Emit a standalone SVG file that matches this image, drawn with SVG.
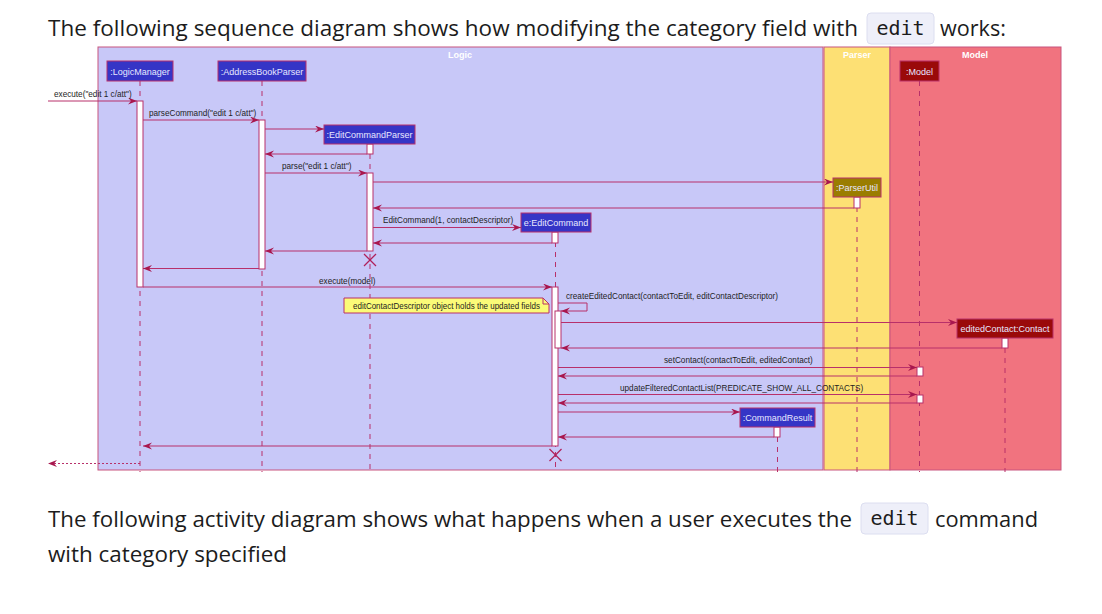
<svg xmlns="http://www.w3.org/2000/svg" width="1102" height="614" viewBox="0 0 1102 614">
<defs>
<style>
.doc{font-family:"Open Sans","Noto Sans","Liberation Sans",sans-serif;font-size:22px;fill:#1c1c1c}
.code{font-family:"DejaVu Sans Mono","Liberation Mono",monospace;font-size:20px;fill:#1c1c1c}
.codebox{fill:#eeeff9;stroke:#dcdef0;stroke-width:1}
.frame{stroke:#c8557e;stroke-width:1}
.ftitle{font-family:"Liberation Sans",Arial,sans-serif;font-size:9px;font-weight:bold;fill:#ffffff;text-anchor:middle}
.pbox{stroke:#b8306a;stroke-width:1}
.ptext{font-family:"Liberation Sans",Arial,sans-serif;font-size:9px;fill:#e8e8ff;text-anchor:middle}
.life{stroke:#b8306a;stroke-width:1;stroke-dasharray:5,5;fill:none}
.act{fill:#ffffff;stroke:#b8306a;stroke-width:1}
.msg{stroke:#b8306a;stroke-width:1;fill:none;marker-end:url(#ah)}
.ret{stroke:#b8306a;stroke-width:1;fill:none;stroke-dasharray:2,2;marker-end:url(#ah)}
.lbl{font-family:"Liberation Sans",Arial,sans-serif;font-size:8.2px;fill:#1e1e1e}
.kill{stroke:#b0205a;stroke-width:1.3}
</style>
<marker id="ah" markerUnits="userSpaceOnUse" markerWidth="10" markerHeight="8" refX="9" refY="3.5" orient="auto">
<path d="M0,0 L9,3.5 L0,7 L3,3.5 Z" fill="#a8174e"/>
</marker>
</defs>
<rect width="1102" height="614" fill="#ffffff"/>

<g id="header">
<text class="doc" x="48" y="36" textLength="810" lengthAdjust="spacingAndGlyphs">The following sequence diagram shows how modifying the category field with</text>
<rect class="codebox" x="867" y="13" width="67" height="31" rx="4"/>
<text class="code" x="900.5" y="35" text-anchor="middle">edit</text>
<text class="doc" x="940" y="36" textLength="66" lengthAdjust="spacingAndGlyphs">works:</text>
</g>

<g id="frames">
<rect class="frame" x="98" y="47" width="725" height="423" fill="#c8c8f8"/>
<rect class="frame" x="824" y="47" width="66" height="423" fill="#fde074"/>
<rect class="frame" x="890" y="47" width="171" height="423" fill="#f1737f"/>
<text class="ftitle" x="460" y="57.5">Logic</text>
<text class="ftitle" x="857" y="57.5">Parser</text>
<text class="ftitle" x="975" y="57.5">Model</text>
</g>

<g id="LogicManager">
<line class="life" x1="140" y1="81" x2="140" y2="472"/>
<rect class="act" x="137" y="101" width="6" height="186"/>
<rect class="pbox" x="107" y="61" width="66" height="20" fill="#3535c6"/>
<text class="ptext" x="140" y="74.5">:LogicManager</text>
</g>

<g id="AddressBookParser">
<line class="life" x1="262" y1="81" x2="262" y2="472"/>
<rect class="act" x="259" y="120" width="6" height="149"/>
<rect class="pbox" x="218" y="61" width="88" height="20" fill="#3535c6"/>
<text class="ptext" x="262" y="74.5">:AddressBookParser</text>
</g>

<g id="EditCommandParser">
<line class="life" x1="370" y1="144" x2="370" y2="472"/>
<rect class="act" x="367" y="144" width="6" height="10"/>
<rect class="act" x="367" y="173" width="6" height="78"/>
<rect class="pbox" x="324" y="125" width="91" height="19" fill="#3535c6"/>
<text class="ptext" x="369.5" y="138">:EditCommandParser</text>
</g>

<g id="ParserUtil">
<line class="life" x1="857" y1="197" x2="857" y2="472"/>
<rect class="act" x="854" y="197" width="6" height="11"/>
<rect class="pbox" x="833" y="178" width="48" height="19" fill="#9a7d00"/>
<text class="ptext" x="857" y="191" fill="#f4ecc8">:ParserUtil</text>
</g>

<g id="EditCommand">
<line class="life" x1="555.5" y1="232" x2="555.5" y2="472"/>
<rect class="act" x="552" y="232" width="6" height="11"/>
<rect class="act" x="552" y="287" width="6" height="159"/>
<rect class="act" x="555" y="311" width="6" height="37"/>
<rect class="pbox" x="521" y="213" width="70" height="19" fill="#3535c6"/>
<text class="ptext" x="556" y="226">e:EditCommand</text>
</g>

<g id="Model">
<line class="life" x1="919.5" y1="81" x2="919.5" y2="472"/>
<rect class="act" x="917" y="367" width="6" height="9"/>
<rect class="act" x="917" y="395" width="6" height="8"/>
<rect class="pbox" x="900" y="61" width="39" height="20" fill="#9a0a0a"/>
<text class="ptext" x="919.5" y="74.5" fill="#f6e6e6">:Model</text>
</g>

<g id="editedContact">
<line class="life" x1="1005" y1="338" x2="1005" y2="472"/>
<rect class="act" x="1002" y="338" width="6" height="10"/>
<rect class="pbox" x="957" y="319" width="96" height="19" fill="#9a0a0a"/>
<text class="ptext" x="1005" y="332" fill="#f6e6e6">editedContact:Contact</text>
</g>

<g id="CommandResult">
<line class="life" x1="777.5" y1="427" x2="777.5" y2="472"/>
<rect class="act" x="774" y="427" width="6" height="10"/>
<rect class="pbox" x="740" y="408" width="75" height="19" fill="#3535c6"/>
<text class="ptext" x="777.5" y="421">:CommandResult</text>
</g>

<g id="note">
<path d="M344,298 L543,298 L549,304 L549,313 L344,313 Z" fill="#fbfb78" stroke="#b8306a" stroke-width="1"/>
<path d="M543,298 L543,304 L549,304" fill="none" stroke="#b8306a" stroke-width="1"/>
<text class="lbl" x="353" y="309" textLength="187" lengthAdjust="spacingAndGlyphs">editContactDescriptor object holds the updated fields</text>
</g>

<g id="connectors">
<line class="msg" x1="48" y1="101" x2="137" y2="101"/>
<text class="lbl" x="54" y="97">execute("edit 1 c/att")</text>
<line class="msg" x1="143" y1="120" x2="259" y2="120"/>
<text class="lbl" x="149" y="116">parseCommand("edit 1 c/att")</text>
<line class="msg" x1="265" y1="129" x2="324" y2="129"/>
<line class="msg" x1="367" y1="154" x2="265" y2="154"/>
<line class="msg" x1="265" y1="173" x2="367" y2="173"/>
<text class="lbl" x="282" y="169">parse("edit 1 c/att")</text>
<line class="msg" x1="373" y1="182" x2="833" y2="182"/>
<line class="msg" x1="854" y1="208" x2="373" y2="208"/>
<line class="msg" x1="373" y1="227.5" x2="521" y2="227.5"/>
<text class="lbl" x="383" y="223">EditCommand(1, contactDescriptor)</text>
<line class="msg" x1="552" y1="243" x2="373" y2="243"/>
<line class="msg" x1="367" y1="251" x2="265" y2="251"/>
<line class="kill" x1="364" y1="254" x2="376" y2="266"/>
<line class="kill" x1="376" y1="254" x2="364" y2="266"/>
<line class="msg" x1="259" y1="268.5" x2="143" y2="268.5"/>
<line class="msg" x1="143" y1="287" x2="552" y2="287"/>
<text class="lbl" x="319" y="284">execute(model)</text>
<polyline class="msg" points="558,303 587,303 587,311 561,311"/>
<text class="lbl" x="566" y="299">createEditedContact(contactToEdit, editContactDescriptor)</text>
<line class="msg" x1="561" y1="322.5" x2="957" y2="322.5"/>
<line class="msg" x1="1002" y1="348" x2="561" y2="348"/>
<line class="msg" x1="558" y1="367.5" x2="917" y2="367.5"/>
<text class="lbl" x="664" y="363">setContact(contactToEdit, editedContact)</text>
<line class="msg" x1="917" y1="376" x2="558" y2="376"/>
<line class="msg" x1="558" y1="394.5" x2="917" y2="394.5"/>
<text class="lbl" x="620" y="390.5">updateFilteredContactList(PREDICATE_SHOW_ALL_CONTACTS)</text>
<line class="msg" x1="917" y1="403" x2="558" y2="403"/>
<line class="msg" x1="558" y1="412" x2="740" y2="412"/>
<line class="msg" x1="774" y1="437" x2="558" y2="437"/>
<line class="msg" x1="552" y1="446" x2="143" y2="446"/>
<line class="kill" x1="549.5" y1="449" x2="561.5" y2="461"/>
<line class="kill" x1="561.5" y1="449" x2="549.5" y2="461"/>
<line class="ret" x1="140" y1="463.5" x2="48" y2="463.5"/>
</g>

<g id="footer">
<text class="doc" x="48" y="527" textLength="804" lengthAdjust="spacingAndGlyphs">The following activity diagram shows what happens when a user executes the</text>
<rect class="codebox" x="861" y="503" width="67" height="31" rx="4"/>
<text class="code" x="894.5" y="525" text-anchor="middle">edit</text>
<text class="doc" x="935" y="527" textLength="103" lengthAdjust="spacingAndGlyphs">command</text>
<text class="doc" x="48" y="562" textLength="239" lengthAdjust="spacingAndGlyphs">with category specified</text>
</g>
</svg>
